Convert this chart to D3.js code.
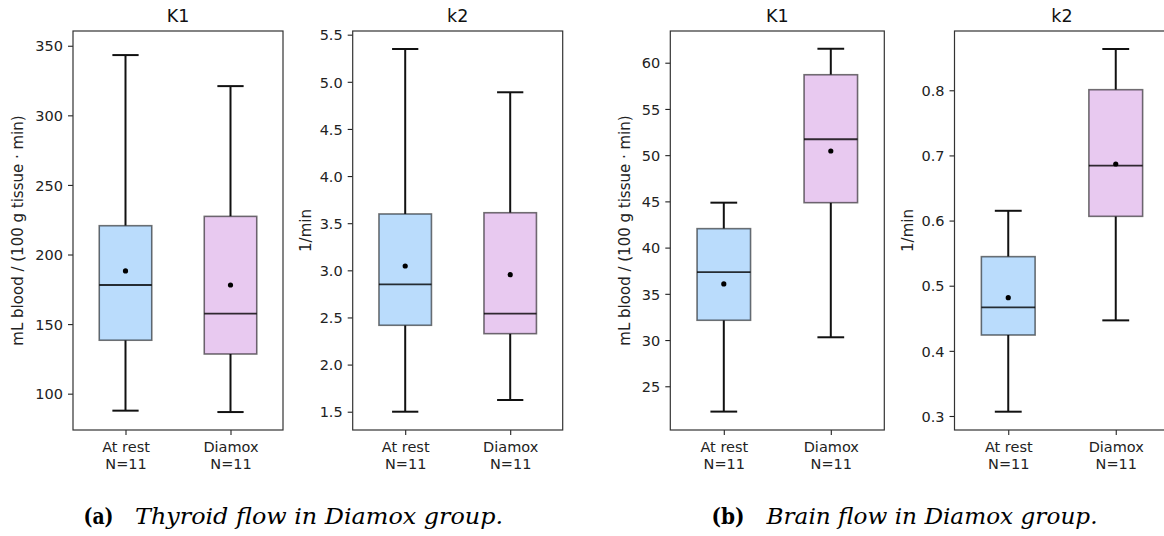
<!DOCTYPE html>
<html lang="en">
<head>
    <meta charset="UTF-8">
    <title>Diamox box plots</title>
    <script src="https://d3js.org/d3.v7.min.js"></script>
    <style>
        body { margin: 0; background: #fff; }
        svg { display: block; }
        .tick text { font-family: "DejaVu Sans", sans-serif; font-size: 14.5px; fill: #222; }
        .title { font-family: "DejaVu Sans", sans-serif; font-size: 17.5px; fill: #111; }
        .ylabel { font-family: "DejaVu Sans", sans-serif; font-size: 15px; fill: #222; }
        .caption { font-family: "DejaVu Serif", "Liberation Serif", serif; font-size: 23px; fill: #000; }
    </style>
</head>
<body>
<svg width="1164" height="536"></svg>

<script>
    // groups on the x axis
    const groups = ["At rest", "Diamox"];
    const counts = [11, 11];

    const panelTitles = ["K1", "k2", "K1", "k2"];
    const yLabels = ["mL blood / (100 g tissue \u00b7 min)", "1/min", "mL blood / (100 g tissue \u00b7 min)", "1/min"];

    // box stats per group: low whisker, q1, median, q3, high whisker, mean
    const thyroidK1 = [
        { low: 87.8, q1: 138.4, median: 178.1, q3: 220.7, high: 343.3, mean: 188.2 },
        { low: 86.8, q1: 128.5, median: 157.5, q3: 227.4, high: 321.0, mean: 178.1 }
    ];
    const thyroidK2 = [
        { low: 1.50, q1: 2.417, median: 2.852, q3: 3.598, high: 5.348, mean: 3.046 },
        { low: 1.624, q1: 2.328, median: 2.540, q3: 3.611, high: 4.889, mean: 2.954 }
    ];
    const brainK1 = [
        { low: 22.26, q1: 32.14, median: 37.34, q3: 42.05, high: 44.86, mean: 36.07 },
        { low: 30.3, q1: 44.86, median: 51.72, q3: 58.70, high: 61.51, mean: 50.45 }
    ];
    const brainK2 = [
        { low: 0.3066, q1: 0.4243, median: 0.4668, q3: 0.5446, high: 0.615, mean: 0.4816 },
        { low: 0.4468, q1: 0.6065, median: 0.6843, q3: 0.8009, high: 0.8634, mean: 0.6868 }
    ];

    const yDomains = [[73.9, 360.6], [1.306, 5.539], [20.27, 63.43], [0.2785, 0.891]];
    const yTicks = [
        [100, 150, 200, 250, 300, 350],
        [1.5, 2.0, 2.5, 3.0, 3.5, 4.0, 4.5, 5.0, 5.5],
        [25, 30, 35, 40, 45, 50, 55, 60],
        [0.3, 0.4, 0.5, 0.6, 0.7, 0.8]
    ];
    const tickFormats = ["d", ".1f", "d", ".1f"];

    const captions = [
        { label: "(a)", text: "Thyroid flow in Diamox group." },
        { label: "(b)", text: "Brain flow in Diamox group." }
    ];

    const svg = d3.select("svg");

    // axes rectangles (pixels)
    const frames = [
        { x0: 73, x1: 283, ylabX: 18 },
        { x0: 352.7, x1: 562.7, ylabX: 306 },
        { x0: 670.3, x1: 884.3, ylabX: 625 },
        { x0: 954.5, x1: 1169.5, ylabX: 908 }
    ];
    const plotTop = 31, plotBottom = 430;
    const fills = ["#badcfc", "#e8c9f0"];
    const panelData = [thyroidK1, thyroidK2, brainK1, brainK2];

    panelData.forEach((stats, i) => {
        const f = frames[i];
        const x = d3.scaleLinear().domain([0.5, 2.5]).range([f.x0, f.x1]);
        const y = d3.scaleLinear().domain(yDomains[i]).range([plotBottom, plotTop]);
        const g = svg.append("g");
        const boxW = x(1.5) - x(1);   // box width 0.5
        const capW = boxW / 2;

        // y axis
        g.append("g")
            .attr("transform", `translate(${f.x0},0)`)
            .call(d3.axisLeft(y).tickValues(yTicks[i]).tickFormat(d3.format(tickFormats[i])).tickSize(5).tickPadding(5))
            .call(a => a.select(".domain").remove())
            .call(a => a.selectAll(".tick line").attr("stroke", "#222").attr("stroke-width", 1.1))
            .call(a => a.selectAll(".tick text").attr("dy", "0.36em"));

        // x axis
        const xa = g.append("g")
            .attr("transform", `translate(0,${plotBottom})`)
            .call(d3.axisBottom(x).tickValues([1, 2]).tickFormat(() => "").tickSize(5))
            .call(a => a.select(".domain").remove())
            .call(a => a.selectAll(".tick line").attr("stroke", "#222").attr("stroke-width", 1.1));
        xa.selectAll(".tick text").remove();
        xa.selectAll(".tick").each(function(d, j) {
            const t = d3.select(this).append("text")
                .attr("text-anchor", "middle")
                .attr("fill", "#222");
            t.append("tspan").attr("x", 0).attr("y", 22).text(groups[j]);
            t.append("tspan").attr("x", 0).attr("y", 39).text("N=" + counts[j]);
        });

        // boxes
        stats.forEach((s, j) => {
            const cx = x(j + 1);
            // whiskers
            g.append("line").attr("x1", cx).attr("x2", cx).attr("y1", y(s.q3)).attr("y2", y(s.high))
                .attr("stroke", "#111").attr("stroke-width", 2);
            g.append("line").attr("x1", cx).attr("x2", cx).attr("y1", y(s.q1)).attr("y2", y(s.low))
                .attr("stroke", "#111").attr("stroke-width", 2);
            g.append("line").attr("x1", cx - capW / 2).attr("x2", cx + capW / 2).attr("y1", y(s.high)).attr("y2", y(s.high))
                .attr("stroke", "#111").attr("stroke-width", 2);
            g.append("line").attr("x1", cx - capW / 2).attr("x2", cx + capW / 2).attr("y1", y(s.low)).attr("y2", y(s.low))
                .attr("stroke", "#111").attr("stroke-width", 2);
            // box
            g.append("rect")
                .attr("x", cx - boxW / 2).attr("width", boxW)
                .attr("y", y(s.q3)).attr("height", y(s.q1) - y(s.q3))
                .attr("fill", fills[j])
                .attr("stroke", "rgba(0,0,0,0.55)").attr("stroke-width", 1.6);
            // median
            g.append("line").attr("x1", cx - boxW / 2).attr("x2", cx + boxW / 2)
                .attr("y1", y(s.median)).attr("y2", y(s.median))
                .attr("stroke", "rgba(0,0,0,0.8)").attr("stroke-width", 1.8);
            // mean
            g.append("circle").attr("cx", cx).attr("cy", y(s.mean)).attr("r", 2.6).attr("fill", "#000");
        });

        // frame
        g.append("rect")
            .attr("x", f.x0).attr("y", plotTop)
            .attr("width", f.x1 - f.x0).attr("height", plotBottom - plotTop)
            .attr("fill", "none").attr("stroke", "#333").attr("stroke-width", 1.2);

        // title
        g.append("text").attr("class", "title")
            .attr("x", (f.x0 + f.x1) / 2).attr("y", 22)
            .attr("text-anchor", "middle")
            .text(panelTitles[i]);

        // y label
        g.append("text").attr("class", "ylabel")
            .attr("transform", `translate(${f.ylabX},${(plotTop + plotBottom) / 2}) rotate(-90)`)
            .attr("text-anchor", "middle")
            .attr("dominant-baseline", "central")
            .text(yLabels[i]);
    });

    // captions: bold label + italic text, stretched to the reference widths
    const capLayout = [
        { lx: 83.5, lw: 30, tx: 135, tw: 368 },
        { lx: 711.5, lw: 33, tx: 766.5, tw: 331 }
    ];
    captions.forEach((c, i) => {
        const p = capLayout[i];
        svg.append("text").attr("class", "caption")
            .attr("x", p.lx).attr("y", 524)
            .attr("font-weight", "bold")
            .attr("textLength", p.lw).attr("lengthAdjust", "spacingAndGlyphs")
            .text(c.label);
        svg.append("text").attr("class", "caption")
            .attr("x", p.tx).attr("y", 524)
            .attr("font-style", "italic")
            .attr("textLength", p.tw).attr("lengthAdjust", "spacingAndGlyphs")
            .text(c.text);
    });
</script>
</body>
</html>
